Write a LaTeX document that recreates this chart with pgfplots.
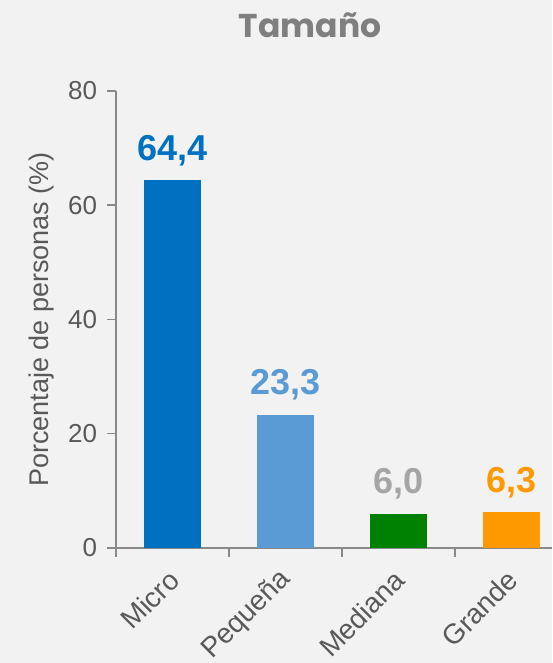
\documentclass[border=0pt]{standalone}
\usepackage{fontspec}
\setmainfont{Liberation Sans}
\newfontfamily\poppins{Poppins}
\usepackage{pgfplots}
\pgfplotsset{compat=1.18}
\definecolor{bg}{HTML}{F2F2F2}
\definecolor{axisgray}{HTML}{898989}
\definecolor{txtgray}{HTML}{595959}
\definecolor{titlegray}{HTML}{7F7F7F}
\definecolor{cMicro}{HTML}{0070C0}
\definecolor{cPeq}{HTML}{5B9BD5}
\definecolor{cMed}{HTML}{008000}
\definecolor{cMedLab}{HTML}{A5A5A5}
\definecolor{cGra}{HTML}{FF9900}
\begin{document}
\begin{tikzpicture}
\fill[bg] (0,0) rectangle (552pt,663pt);
\useasboundingbox (0,0) rectangle (552pt,663pt);
\node[font=\poppins\bfseries\fontsize{33}{33}\selectfont, text=titlegray] at (310pt,638pt) {Tamaño};
\begin{axis}[
  at={(116pt,115pt)}, anchor=south west,
  scale only axis, width=436pt, height=457pt,
  xmin=-0.5, xmax=3.36, ymin=0, ymax=80,
  axis x line*=bottom, axis y line*=left,
  axis line style={axisgray, line width=1.5pt, -},
  /pgf/number format/assume math mode=true,
  ytick={0,20,40,60,80},
  xtick={-0.5,0.5,1.5,2.5}, xticklabels={},
  extra x ticks={0,1,2,3},
  extra x tick labels={Micro,Pequeña,Mediana,Grande},
  extra x tick style={major tick length=0pt},
  tick align=outside, major tick length=8.5pt,
  tick style={axisgray, line width=1.5pt},
  yticklabel style={font=\fontsize{26}{26}\selectfont, text=txtgray, xshift=-7pt},
  xticklabel style={font=\fontsize{28}{28}\selectfont, text=txtgray, xshift=4pt, yshift=-25pt, rotate=45, anchor=east},
  ylabel={Porcentaje de personas (\%)},
  ylabel style={font=\fontsize{27}{27}\selectfont, text=txtgray, at={(axis description cs:-0.17,0.5)}, anchor=center},
  ybar, bar width=57pt, /pgf/bar shift=0pt,
  nodes near coords={\pgfmathprintnumber[fixed,fixed zerofill,precision=1,use comma,assume math mode=true]{\pgfplotspointmeta}},
  every node near coord/.append style={font=\bfseries\fontsize{36}{36}\selectfont, anchor=base, yshift=20pt},
  clip=false,
]
\addplot[fill=cMicro, draw=none, nodes near coords style={text=cMicro}] coordinates {(0,64.4)};
\addplot[fill=cPeq, draw=none, nodes near coords style={text=cPeq}] coordinates {(1,23.3)};
\addplot[fill=cMed, draw=none, nodes near coords style={text=cMedLab}] coordinates {(2,6.0)};
\addplot[fill=cGra, draw=none, nodes near coords style={text=cGra}] coordinates {(3,6.3)};
\end{axis}
\end{tikzpicture}
\end{document}
